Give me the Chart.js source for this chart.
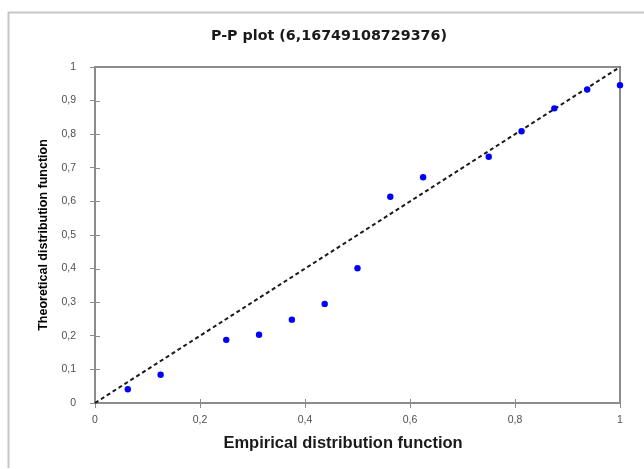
<!DOCTYPE html>
<html><head><meta charset="utf-8">
<script src="https://cdn.jsdelivr.net/npm/chart.js@4/dist/chart.umd.min.js"></script>
<style>html,body{margin:0;padding:0;background:#fff}#wrap{width:644px;height:469px;position:relative}</style>
</head><body><div id="wrap"><canvas id="c" width="644" height="469"></canvas></div>
<script>
const chartTitle = 'P-P plot (6,16749108729376)';
const xAxisTitle = 'Empirical distribution function';
const yAxisTitle = 'Theoretical distribution function';
const empirical = [0.0625, 0.125, 0.25, 0.3125, 0.375, 0.4375, 0.5, 0.5625, 0.625, 0.75, 0.8125, 0.875, 0.9375, 1];
const theoretical = [0.041, 0.084, 0.188, 0.203, 0.248, 0.295, 0.401, 0.614, 0.672, 0.733, 0.809, 0.877, 0.933, 0.946];
const refLineX = [0, 1];
const refLineY = [0, 1];
const xTickValues = [0, 0.2, 0.4, 0.6, 0.8, 1];
const yTickValues = [0, 0.1, 0.2, 0.3, 0.4, 0.5, 0.6, 0.7, 0.8, 0.9, 1];

const axisColor = '#8c8c8c';
const fmt = v => String(Math.round(v * 10) / 10).replace('.', ',');

const decor = {
  id: 'decor',
  beforeDatasetsDraw(chart) {
    const ctx = chart.ctx, a = chart.chartArea;
    const xs = chart.scales.x, ys = chart.scales.y;
    ctx.save();
    ctx.strokeStyle = axisColor;
    ctx.lineWidth = 2;
    ctx.strokeRect(a.left, a.top, a.right - a.left, a.bottom - a.top);
    ctx.lineWidth = 1;
    ctx.beginPath();
    xs.ticks.forEach(t => {
      const p = Math.round(xs.getPixelForValue(t.value)) + 0.5;
      ctx.moveTo(p, a.bottom); ctx.lineTo(p, a.bottom - 4);
    });
    ys.ticks.forEach(t => {
      const p = Math.round(ys.getPixelForValue(t.value)) + 0.5;
      ctx.moveTo(a.left, p); ctx.lineTo(a.left + 5, p);
    });
    ctx.stroke();
    ctx.restore();
  },
  afterDraw(chart) {
    const ctx = chart.ctx;
    ctx.save();
    ctx.strokeStyle = '#c6c6c6';
    ctx.lineWidth = 2;
    ctx.beginPath();
    ctx.moveTo(8.5, 468); ctx.lineTo(8.5, 12.5); ctx.lineTo(644, 12.5);
    ctx.stroke();
    ctx.fillStyle = '#1a1a1a';
    ctx.textAlign = 'center';
    ctx.textBaseline = 'middle';
    ctx.font = 'bold 14.3px "DejaVu Sans"';
    ctx.fillText(chartTitle, 329, 36);
    ctx.font = 'bold 16.5px "Liberation Sans"';
    ctx.fillText(xAxisTitle, 343, 443);
    ctx.restore();
  }
};

new Chart(document.getElementById('c'), {
  type: 'scatter',
  data: {
    datasets: [
      {
        label: 'P-P',
        data: empirical.map((x, i) => ({x, y: theoretical[i]})),
        backgroundColor: '#0000ff',
        borderColor: '#0000ff',
        borderWidth: 0,
        pointRadius: 3.2,
        clip: false
      },
      {
        type: 'line',
        label: 'ref',
        data: refLineX.map((x, i) => ({x, y: refLineY[i]})),
        borderColor: '#1a1a1a',
        borderWidth: 2,
        borderDash: [4, 3],
        pointRadius: 0,
        fill: false,
        clip: false
      }
    ]
  },
  options: {
    responsive: false,
    animation: false,
    devicePixelRatio: 1,
    layout: {padding: {left: 0, right: 24, top: 67, bottom: 0}},
    plugins: {legend: {display: false}, tooltip: {enabled: false}, title: {display: false}},
    scales: {
      x: {
        type: 'linear', min: 0, max: 1,
        afterFit(s) { s.height = 66; },
        afterBuildTicks(s) { s.ticks = xTickValues.map(v => ({value: v})); },
        ticks: {callback: v => fmt(v), color: '#505050', font: {family: 'Liberation Sans', size: 10.5}, padding: 6, maxRotation: 0, autoSkip: false},
        grid: {drawOnChartArea: false, drawTicks: true, tickLength: 5, color: axisColor, lineWidth: 1},
        border: {display: true, color: axisColor, width: 2},
        title: {display: false}
      },
      y: {
        type: 'linear', min: 0, max: 1,
        afterFit(s) { s.width = 95; },
        afterBuildTicks(s) { s.ticks = yTickValues.map(v => ({value: v})); },
        ticks: {callback: v => fmt(v), color: '#505050', font: {family: 'Liberation Sans', size: 10.5}, padding: 14, autoSkip: false},
        grid: {drawOnChartArea: false, drawTicks: true, tickLength: 5, color: axisColor, lineWidth: 1},
        border: {display: true, color: axisColor, width: 2},
        title: {display: true, text: yAxisTitle, color: '#000', font: {family: 'Liberation Sans', size: 12.5, weight: 'bold'}, padding: {top: 36.5, bottom: 0}}
      }
    }
  },
  plugins: [decor]
});
</script></body></html>
